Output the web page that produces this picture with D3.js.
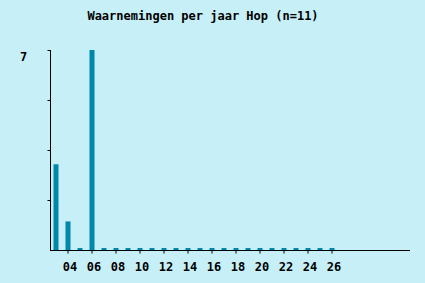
<!DOCTYPE html>
<html>
<head>
<meta charset="utf-8">
<script src="https://cdn.jsdelivr.net/npm/d3@7"></script>
<style>
  body { margin: 0; background: #c6eff7; }
  text { font-family: "DejaVu Sans Mono", monospace; font-weight: bold; fill: #000; }
</style>
</head>
<body>
<div id="container"></div>
<script>
// data: observations per year (03..26), axis runs to 32
const years = d3.range(3, 33);
const counts = [3, 1, 0, 7, 0, 0, 0, 0, 0, 0, 0, 0, 0, 0, 0, 0, 0, 0, 0, 0, 0, 0, 0, 0];
const tickYears = d3.range(4, 27, 2);
const title = "Waarnemingen per jaar Hop (n=11)";

const width = 425, height = 283;
const margin = { left: 50, right: 15, top: 50, bottom: 33 };

const svg = d3.select("#container")
    .append("svg")
    .attr("width", width)
    .attr("height", height)
    .style("background", "#c6eff7");

// x as a band per year
const x = d3.scaleBand()
    .domain(years)
    .range([margin.left, width - margin.right]);

const y = d3.scaleLinear()
    .domain([0, 7])
    .range([height - margin.bottom, margin.top]);

const barW = 5;

// bars (zero years get a thin stub)
svg.append("g")
    .selectAll("rect")
    .data(counts)
    .join("rect")
    .attr("x", (d, i) => x(years[i]) + x.bandwidth() / 2 - barW / 2)
    .attr("width", barW)
    .attr("y", d => d > 0 ? y(d) : y(0) - 2)
    .attr("height", d => d > 0 ? y(0) - y(d) : 2)
    .attr("fill", "#0088aa");

// x axis
const xAxis = svg.append("g")
    .attr("transform", `translate(0,${y(0) + 0.5})`);
xAxis.append("line")
    .attr("x1", margin.left).attr("x2", width - margin.right)
    .attr("stroke", "#000");
xAxis.selectAll(".tk")
    .data(tickYears)
    .join("line")
    .attr("x1", d => x(d) + x.bandwidth() / 2)
    .attr("x2", d => x(d) + x.bandwidth() / 2)
    .attr("y1", 0).attr("y2", 3)
    .attr("stroke", "#000");
xAxis.selectAll("text")
    .data(tickYears)
    .join("text")
    .attr("x", d => x(d) + x.bandwidth() / 2 + 2)
    .attr("y", 20)
    .attr("text-anchor", "middle")
    .attr("font-size", "12px")
    .text(d => d3.format("02")(d));

// y axis
const yAxis = svg.append("g")
    .attr("transform", `translate(${margin.left + 0.5},0)`);
yAxis.append("line")
    .attr("y1", y(0)).attr("y2", y(7))
    .attr("stroke", "#000");
yAxis.selectAll(".tk")
    .data(d3.range(0, 4))
    .join("line")
    .attr("y1", d => y(7) + d * 50 + 0.5)
    .attr("y2", d => y(7) + d * 50 + 0.5)
    .attr("x1", -3).attr("x2", 0)
    .attr("stroke", "#000");
yAxis.append("text")
    .attr("x", -27)
    .attr("y", y(7) + 11)
    .attr("text-anchor", "middle")
    .attr("font-size", "12px")
    .text("7");

// title
svg.append("text")
    .attr("x", 203)
    .attr("y", 20)
    .attr("text-anchor", "middle")
    .attr("font-size", "12px")
    .text(title);
</script>
</body>
</html>
